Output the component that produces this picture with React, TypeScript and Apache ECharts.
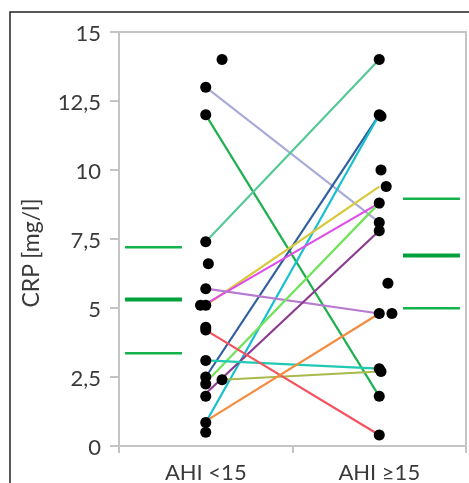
import React, { useEffect, useRef } from "react";
import * as echarts from "echarts";

const categories = ["AHI <15", "AHI ≥15"];
const yTicks = [0, 2.5, 5, 7.5, 10, 12.5, 15];

// individual values (CRP mg/l) and small horizontal jitter (axis units)
const leftDots = [14.0, 13.0, 12.0, 7.4, 6.6, 5.7, 5.1, 5.1, 4.3, 4.2, 3.1, 2.5, 2.4, 2.25, 1.8, 0.85, 0.5];
const leftJitter = [0.094, 0, 0, 0, 0.015, 0, -0.03, 0, 0, 0, 0, 0, 0.094, 0, 0, 0, 0];
const rightDots = [14.0, 12.0, 11.95, 10.0, 9.4, 8.8, 8.1, 7.8, 5.9, 4.8, 4.8, 2.8, 2.7, 1.8, 0.4];
const rightJitter = [0, 0, 0.01, 0.01, 0.04, 0, 0, 0, 0.05, 0, 0.073, 0, 0.01, 0, 0];

// paired connections: left value -> right value
const pairLeft = [13.0, 12.0, 7.4, 2.5, 0.85, 5.1, 5.15, 5.7, 2.3, 2.4, 1.9, 3.1, 4.2, 0.9];
const pairRight = [8.1, 1.8, 14.0, 12.0, 12.0, 9.4, 8.8, 4.8, 8.8, 2.7, 7.8, 2.8, 0.4, 4.8];
const pairColors = [
  "#a9acd8", "#1fb04e", "#55c896", "#2f5f9e", "#16c0cf", "#d6c93c", "#e04ee8",
  "#b97ad2", "#6fe35a", "#a9b94c", "#8a3b8e", "#22c9b2", "#f4525e", "#f58b3e",
];

// mean and mean ± SD per group
const meanVals = [5.31, 6.9];
const sdUpper = [7.2, 8.96];
const sdLower = [3.36, 4.99];

export default function App() {
  const ref = useRef<HTMLDivElement>(null);
  useEffect(() => {
    document.body.style.margin = "0";
    const chart = echarts.init(ref.current!, null, { renderer: "svg" });
    const series: any[] = [];
    pairLeft.forEach((l, i) => {
      series.push({
        type: "line",
        xAxisIndex: 0,
        data: [
          [i === 9 ? 0.594 : 0.5, l],
          [1.5, pairRight[i]],
        ],
        symbol: "none",
        lineStyle: { color: pairColors[i], width: 2.2 },
        z: 2,
      });
    });
    const statX = [
      [0.035, 0.363],
      [1.637, 1.965],
    ];
    [0, 1].forEach((g) => {
      [sdUpper[g], meanVals[g], sdLower[g]].forEach((v, k) => {
        series.push({
          type: "line",
          xAxisIndex: 0,
          data: [
            [statX[g][0], v],
            [statX[g][1], v],
          ],
          symbol: "none",
          lineStyle: { color: k === 1 ? "#00a13a" : "#13b24a", width: k === 1 ? 4 : 2.5 },
          z: 2,
        });
      });
    });
    const dotStyle = { color: "#000", opacity: 1 };
    series.push({
      type: "scatter",
      xAxisIndex: 0,
      data: leftDots.map((v, i) => [0.5 + leftJitter[i], v]),
      symbolSize: 11,
      itemStyle: dotStyle,
      z: 5,
    });
    series.push({
      type: "scatter",
      xAxisIndex: 0,
      data: rightDots.map((v, i) => [1.5 + rightJitter[i], v]),
      symbolSize: 11,
      itemStyle: dotStyle,
      z: 5,
    });

    chart.setOption({
      animation: false,
      grid: {
        left: 119,
        right: 3,
        top: 32,
        bottom: 37,
        show: true,
        borderColor: "#c4c4c4",
        borderWidth: 2,
        backgroundColor: "transparent",
      },
      xAxis: [
        {
          type: "value",
          min: 0,
          max: 2,
          show: false,
        },
        {
          type: "category",
          data: categories,
          boundaryGap: true,
          position: "bottom",
          axisLine: { lineStyle: { color: "#c4c4c4", width: 2 } },
          axisTick: { show: true, length: 7, lineStyle: { color: "#c4c4c4", width: 2 } },
          axisLabel: {
            color: "#3a3a3a",
            fontSize: 22,
            fontFamily: "Lato",
            margin: 14,
          },
          splitLine: { show: false },
        },
      ],
      yAxis: {
        type: "value",
        min: 0,
        max: 15,
        interval: 2.5,
        axisLine: { show: true, lineStyle: { color: "#c4c4c4", width: 2 } },
        axisTick: { show: true, length: 9, lineStyle: { color: "#c4c4c4", width: 2 } },
        axisLabel: {
          color: "#3a3a3a",
          fontSize: 22,
          fontFamily: "Lato",
          margin: 18,
          formatter: (v: number) => (yTicks.includes(v) ? String(v).replace(".", ",") : ""),
        },
        splitLine: { show: false },
      },
      graphic: [
        {
          type: "rect",
          shape: { x: 10, y: 12, width: 520, height: 520 },
          style: { fill: "none", stroke: "#222", lineWidth: 1.5 },
          silent: true,
        },
        {
          type: "text",
          x: 30,
          y: 253,
          rotation: Math.PI / 2,
          style: {
            text: "CRP [mg/l]",
            fill: "#3a3a3a",
            fontSize: 23,
            fontFamily: "Lato",
            align: "center",
            verticalAlign: "middle",
          },
        },
      ],
      series,
    });
    return () => chart.dispose();
  }, []);
  return <div ref={ref} style={{ position: "fixed", left: 0, top: 0, width: 469, height: 483 }} />;
}
